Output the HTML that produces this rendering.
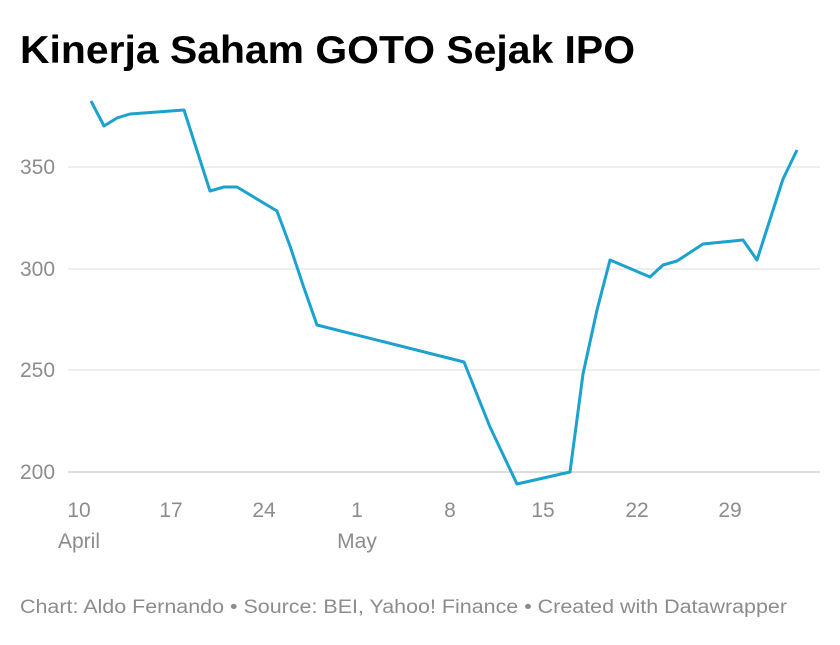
<!DOCTYPE html>
<html><head><meta charset="utf-8"><style>
body{margin:0;background:#fff;width:840px;height:640px;overflow:hidden;font-family:"Liberation Sans",sans-serif}
</style></head><body>
<svg width="840" height="640" xmlns="http://www.w3.org/2000/svg">
<text x="20" y="63" font-family="Liberation Sans, sans-serif" font-weight="bold" font-size="39" fill="#000" textLength="615" lengthAdjust="spacingAndGlyphs">Kinerja Saham GOTO Sejak IPO</text>
<g stroke="#dcdcdc" stroke-width="1">
<line x1="68" x2="820" y1="167" y2="167"/>
<line x1="68" x2="820" y1="269" y2="269"/>
<line x1="68" x2="820" y1="370" y2="370"/>
</g>
<line x1="68" x2="820" y1="472" y2="472" stroke="#bbb" stroke-width="1"/>
<g font-family="Liberation Sans, sans-serif" font-size="21" fill="#8c8c8c">
<text x="20" y="174">350</text>
<text x="20" y="276">300</text>
<text x="20" y="377">250</text>
<text x="20" y="479">200</text>
</g>
<g font-family="Liberation Sans, sans-serif" font-size="21" fill="#8c8c8c" text-anchor="middle">
<text x="79" y="517">10</text><text x="79" y="548">April</text>
<text x="171" y="517">17</text>
<text x="264" y="517">24</text>
<text x="357" y="517">1</text><text x="357" y="548">May</text>
<text x="450" y="517">8</text>
<text x="543" y="517">15</text>
<text x="637" y="517">22</text>
<text x="730" y="517">29</text>
</g>
<polyline fill="none" stroke="#1ba2cf" stroke-width="3" stroke-linejoin="round" points="91,101 104,126 117,118 130,114 184,110 210,191 224,187 237,187 277,211 290,246 304,288 317,325 464,362 490,427 517,484 570,472 583,374 597,310 610,260 650,277 663,265 677,261 703,244 743,240 757,260 783,179 797,150"/>
<text x="20" y="613" font-family="Liberation Sans, sans-serif" font-size="19" fill="#8c8c8c" textLength="767" lengthAdjust="spacingAndGlyphs">Chart: Aldo Fernando • Source: BEI, Yahoo! Finance • Created with Datawrapper</text>
</svg>
</body></html>
